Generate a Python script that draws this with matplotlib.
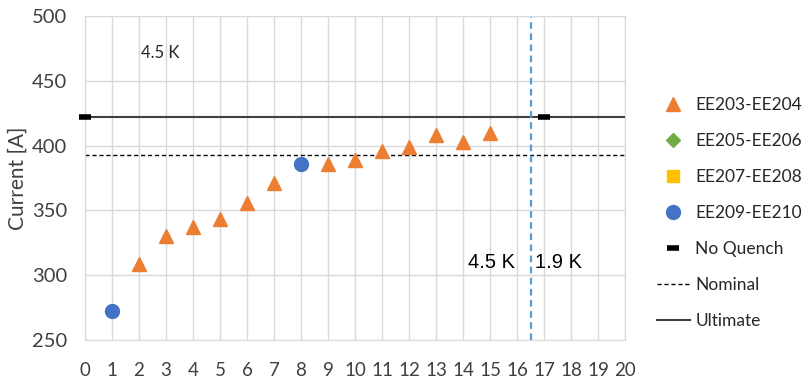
import matplotlib
matplotlib.use("Agg")
import matplotlib.pyplot as plt
from matplotlib.lines import Line2D

plt.rcParams['font.family'] = ['Lato', 'DejaVu Sans']

# Quench currents per training quench
ee203_x = [2, 3, 4, 5, 6, 7, 9, 10, 11, 12, 13, 14, 15]
ee203_y = [309, 330, 337.5, 343, 356, 371, 386, 389, 395.5, 399, 408, 402.5, 410]
ee205_x, ee205_y = [], []
ee207_x, ee207_y = [], []
ee209_x = [1, 8]
ee209_y = [272, 386]
noq_x = [0, 17]
noq_y = [422, 422]

nominal = 393
ultimate = 422
temp_switch = 16.5

xticks = list(range(0, 21))
yticks = [250, 300, 350, 400, 450, 500]

fig = plt.figure(figsize=(8.07, 3.8), dpi=100)
ax = fig.add_axes([85/807, 1 - 340/380, 540/807, 324/380])

ax.set_xlim(0, 20)
ax.set_ylim(250, 500)
ax.set_xticks(xticks)
ax.set_yticks(yticks)
ax.grid(True, color='#d9d9d9', linewidth=1)
ax.set_axisbelow(True)
for s in ax.spines.values():
    s.set_color('#d9d9d9')
ax.tick_params(length=0, colors='#404040')
ax.tick_params(axis='x', labelsize=13.5, pad=16)
ax.tick_params(axis='y', labelsize=14.5, pad=13)
ax.set_ylabel('Current [A]', fontsize=15, color='#404040')
ax.yaxis.set_label_coords(-0.107, 0.5)

ax.axhline(ultimate, color='#404040', linewidth=1.5, zorder=2)
ax.axhline(nominal, color='black', linewidth=1, linestyle=(0, (3, 2)), zorder=2)
ax.axvline(temp_switch, color='#4f9fe0', linewidth=1.6, linestyle=(0, (3, 2)), zorder=2)

ax.plot(ee203_x, ee203_y, linestyle='none', marker='^', markersize=10,
        color='#ED7D31', zorder=3)
ax.plot(ee205_x, ee205_y, linestyle='none', marker='D', markersize=7,
        color='#70AD47', zorder=3)
ax.plot(ee207_x, ee207_y, linestyle='none', marker='s', markersize=8,
        color='#FFC000', zorder=3)
ax.plot(ee209_x, ee209_y, linestyle='none', marker='o', markersize=10,
        color='#4472C4', zorder=3)
ax.plot(noq_x, noq_y, linestyle='none', marker='_', markersize=9,
        markeredgewidth=4, color='black', zorder=4, clip_on=False)

ax.text(2.8, 471.5, '4.5 K', fontsize=12, color='#262626', ha='center', va='center')
ax.text(15.93, 310, '4.5 K', fontsize=14.5, color='black', ha='right', va='center',
        family=['Liberation Sans', 'DejaVu Sans'])
ax.text(16.67, 310, '1.9 K', fontsize=14.5, color='black', ha='left', va='center',
        family=['Liberation Sans', 'DejaVu Sans'])

handles = [
    Line2D([], [], linestyle='none', marker='^', markersize=10, color='#ED7D31'),
    Line2D([], [], linestyle='none', marker='D', markersize=7, color='#70AD47'),
    Line2D([], [], linestyle='none', marker='s', markersize=8, color='#FFC000'),
    Line2D([], [], linestyle='none', marker='o', markersize=10, color='#4472C4'),
    Line2D([], [], linestyle='none', marker='_', markersize=9, markeredgewidth=4,
           color='black'),
    Line2D([], [], color='black', linewidth=1, linestyle=(0, (3, 2))),
    Line2D([], [], color='#404040', linewidth=1.5),
]
labels = ['EE203-EE204', 'EE205-EE206', 'EE207-EE208', 'EE209-EE210',
          'No Quench', 'Nominal', 'Ultimate']
fig.legend(handles, labels, loc='center left',
           bbox_to_anchor=(657/807, 1 - 213/380), frameon=False,
           borderpad=0, borderaxespad=0,
           fontsize=12.5, labelspacing=1.16, handlelength=1.9,
           handletextpad=0.3, labelcolor='#262626')

fig.savefig('out.png', dpi=100)
